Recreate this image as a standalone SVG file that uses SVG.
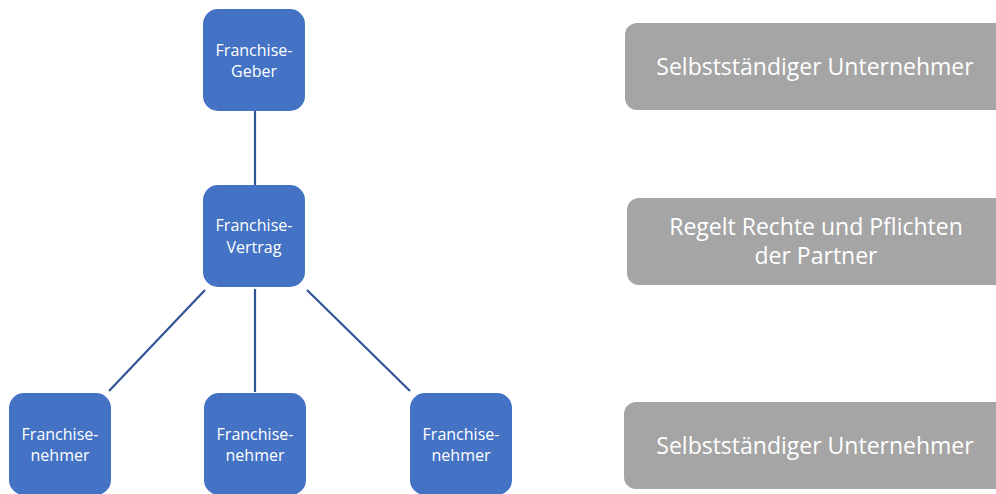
<svg xmlns="http://www.w3.org/2000/svg" width="996" height="494" viewBox="0 0 996 494">
<style>
.n{fill:#4472C4;}
.g{fill:#A5A5A5;}
.t{font-family:"Open Sans","Noto Sans",sans-serif;font-size:16px;fill:#FFFFFF;text-anchor:middle;}
.tg{font-family:"Open Sans","Noto Sans",sans-serif;font-size:23px;fill:#FFFFFF;text-anchor:middle;}
.c{stroke:#2F5597;stroke-width:2.2;fill:none;}
</style>
<rect width="996" height="494" fill="#FFFFFF"/>
<g id="connectors">
<line class="c" x1="255" y1="111" x2="255" y2="185"/>
<line class="c" x1="205" y1="290" x2="109" y2="391"/>
<line class="c" x1="255" y1="289" x2="255" y2="392"/>
<line class="c" x1="307" y1="290" x2="410" y2="391"/>
</g>
<g id="geber">
<rect class="n" x="203" y="9" width="102" height="102" rx="15"/>
<text class="t" x="254" y="56">Franchise-</text>
<text class="t" x="254" y="77">Geber</text>
</g>
<g id="vertrag">
<rect class="n" x="203" y="185" width="102" height="102" rx="15"/>
<text class="t" x="254" y="231">Franchise-</text>
<text class="t" x="254" y="253">Vertrag</text>
</g>
<g id="nehmer1">
<rect class="n" x="9" y="393" width="102" height="102" rx="15"/>
<text class="t" x="60" y="440">Franchise-</text>
<text class="t" x="60" y="461">nehmer</text>
</g>
<g id="nehmer2">
<rect class="n" x="204" y="393" width="102" height="102" rx="15"/>
<text class="t" x="255" y="440">Franchise-</text>
<text class="t" x="255" y="461">nehmer</text>
</g>
<g id="nehmer3">
<rect class="n" x="410" y="393" width="102" height="102" rx="15"/>
<text class="t" x="461" y="440">Franchise-</text>
<text class="t" x="461" y="461">nehmer</text>
</g>
<g id="label1">
<rect class="g" x="625" y="23" width="390" height="87" rx="12"/>
<text class="tg" x="815" y="75">Selbstständiger Unternehmer</text>
</g>
<g id="label2">
<rect class="g" x="627" y="198" width="390" height="87" rx="12"/>
<text class="tg" x="816" y="235">Regelt Rechte und Pflichten</text>
<text class="tg" x="816" y="264">der Partner</text>
</g>
<g id="label3">
<rect class="g" x="624" y="402" width="390" height="87" rx="12"/>
<text class="tg" x="815" y="454">Selbstständiger Unternehmer</text>
</g>
</svg>
